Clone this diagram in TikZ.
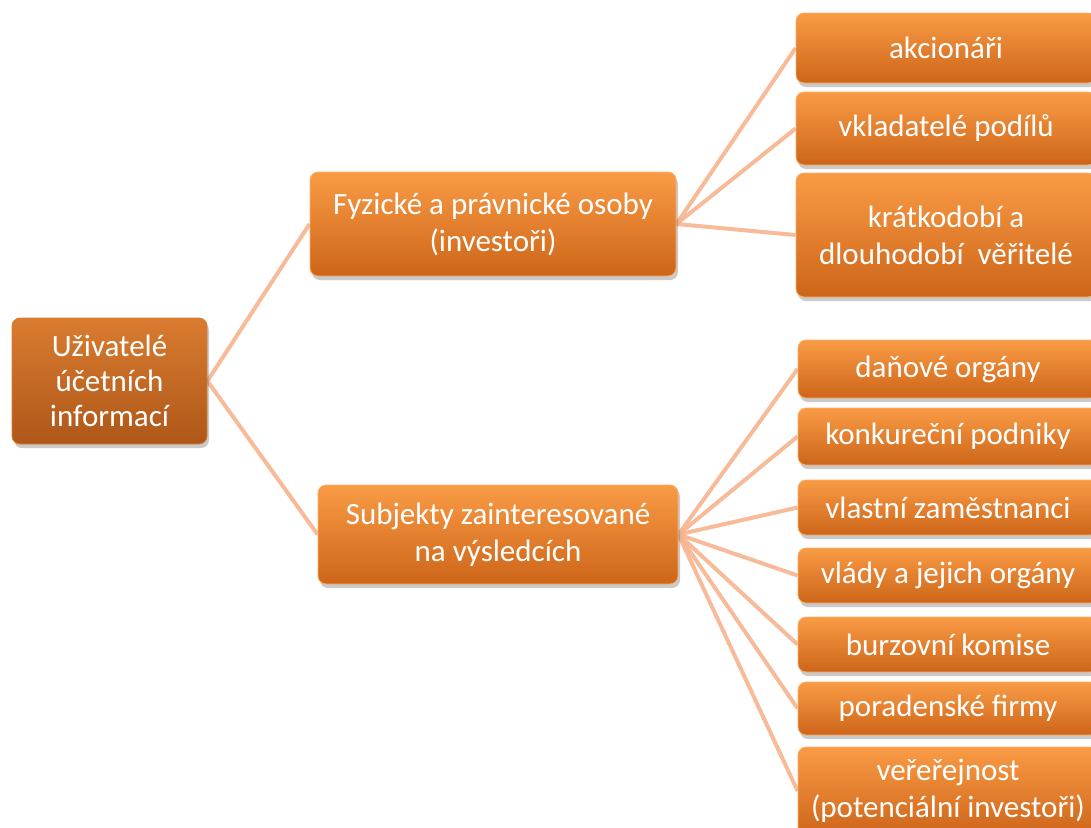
\documentclass[tikz,border=0pt]{standalone}
\usepackage{fontspec}
\setmainfont{Carlito}
\usetikzlibrary{shadows,backgrounds}
\definecolor{boxtop}{HTML}{F99B45}
\definecolor{boxmid}{HTML}{EE7F28}
\definecolor{boxbot}{HTML}{CD6519}
\definecolor{roottop}{HTML}{D97C30}
\definecolor{rootmid}{HTML}{C86A22}
\definecolor{rootbot}{HTML}{AE5719}
\definecolor{linkcol}{HTML}{F6B48E}
\tikzset{
  box/.style={rectangle, rounded corners=8pt, inner sep=0pt, align=center,
    text=white, font=\fontsize{31}{37}\selectfont,
    top color=boxtop, middle color=boxmid, bottom color=boxbot,
    draw=boxtop!80!white, line width=0.8pt,
    drop shadow={shadow xshift=2pt, shadow yshift=-4pt, opacity=0.35, fill=black!60}},
  rootbox/.style={box, font=\fontsize{31}{35}\selectfont, top color=roottop, middle color=rootmid, bottom color=rootbot, draw=roottop},
  link/.style={draw=linkcol, line width=4pt, opacity=0.9}
}
\begin{document}
\begin{tikzpicture}[x=1pt,y=-1pt]
\useasboundingbox (0,0) rectangle (1091,827);
\clip (0,0) rectangle (1091,827);
% root
\node[rootbox, minimum width=195pt, minimum height=126pt] (root) at (109.5,381) {Uživatelé\\účetních\\informací};
% middle level
\node[box, minimum width=366pt, minimum height=104pt] (fyz) at (493,224) {Fyzické a právnické osoby\\(investoři)};
\node[box, minimum width=360pt, minimum height=99pt] (sub) at (498,534.5) {Subjekty zainteresované\\na výsledcích};
% upper right group
\node[box, minimum width=300pt, minimum height=70pt] (akc) at (946,48) {akcionáři};
\node[box, minimum width=300pt, minimum height=73pt] (vkl) at (946,128.5) {vkladatelé podílů};
\node[box, minimum width=300pt, minimum height=124pt] (ver) at (946,235) {krátkodobí a\\dlouhodobí\ \ věřitelé};
% lower right group
\node[box, minimum width=300pt, minimum height=58pt] (dan) at (948,369) {daňové orgány};
\node[box, minimum width=300pt, minimum height=57pt] (kon) at (948,436.5) {konkureční podniky};
\node[box, minimum width=300pt, minimum height=55pt] (zam) at (948,507.5) {vlastní zaměstnanci};
\node[box, minimum width=300pt, minimum height=55pt] (vla) at (948,575.5) {vlády a jejich orgány};
\node[box, minimum width=300pt, minimum height=55pt] (bur) at (948,644.5) {burzovní komise};
\node[box, minimum width=300pt, minimum height=53pt] (por) at (948,708.5) {poradenské firmy};
\node[box, minimum width=300pt, minimum height=88pt] (ver2) at (948,791) {veřeřejnost\\(potenciální investoři)};
% connectors
\begin{scope}[on background layer]
\draw[link] (root.east) -- (fyz.west);
\draw[link] (root.east) -- (sub.west);
\foreach \t in {akc,vkl,ver} \draw[link] (fyz.east) -- (\t.west);
\foreach \t in {dan,kon,zam,vla,bur,por,ver2} \draw[link] (sub.east) -- (\t.west);
\end{scope}
\end{tikzpicture}
\end{document}
